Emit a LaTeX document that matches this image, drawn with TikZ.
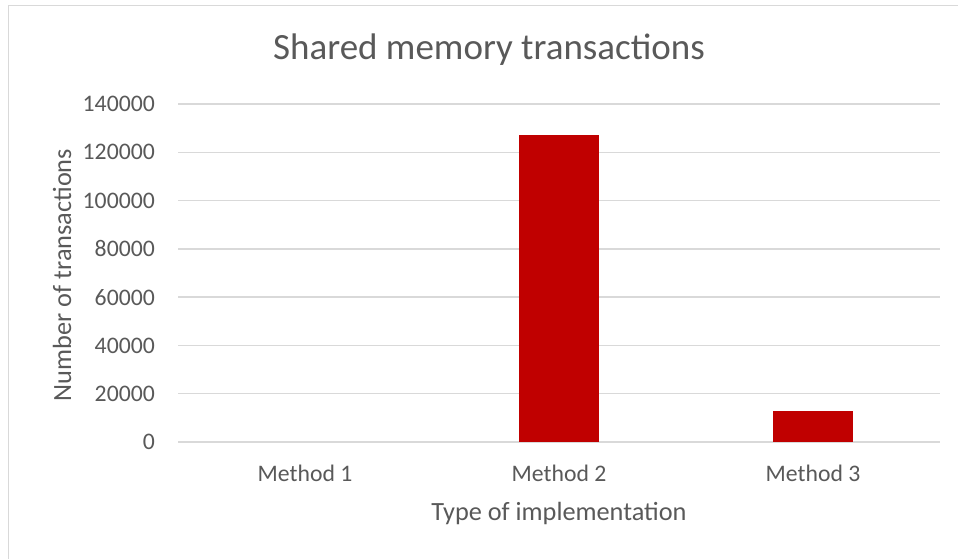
\documentclass[tikz,border=0pt]{standalone}
\usepackage{fontspec}
\setmainfont{Carlito}
\definecolor{txtgray}{HTML}{595959}
\definecolor{gridgray}{HTML}{D9D9D9}
\definecolor{barred}{HTML}{C00000}
\begin{document}
\begin{tikzpicture}[x=1pt,y=-1pt,
  ticklabel/.style={anchor=east,text=txtgray,font=\fontsize{23.7}{28}\selectfont,inner sep=0pt},
  catlabel/.style={anchor=center,text=txtgray,font=\fontsize{23.7}{28}\selectfont,inner sep=0pt},
  axistitle/.style={anchor=center,text=txtgray,font=\fontsize{26.3}{31}\selectfont,inner sep=0pt},
  charttitle/.style={anchor=center,text=txtgray,font=\fontsize{37}{44}\selectfont,inner sep=0pt},
  gridline/.style={draw=gridgray,line width=1.5pt},
  bar/.style={fill=barred,draw=none}]
\useasboundingbox (0,0) rectangle (958,558);
\fill[white] (0,0) rectangle (958,558);
% chart area frame (runs off the right and bottom edges)
\draw[gridgray,line width=1.5pt] (8.5,560) -- (8.5,5.5) -- (960,5.5);
% title
\node[charttitle] (title) at (489,50) {Shared memory transactions};
% horizontal gridlines and value labels
\foreach \v [count=\i from 0] in {0,20000,40000,60000,80000,100000,120000,140000} {
  \pgfmathsetmacro{\yy}{442-48.2857*\i}
  \draw[gridline] (178,\yy) -- (940,\yy);
  \node[ticklabel] (tick\i) at (155,\yy) {\v};
}
% bars
\fill[bar] (519,442) rectangle (599,134.5) coordinate (bartwo);
\fill[bar] (773,442) rectangle (853,411) coordinate (barthree);
% category labels
\node[catlabel] (m1) at (305,473) {Method 1};
\node[catlabel] (m2) at (559,473) {Method 2};
\node[catlabel] (m3) at (813,473) {Method 3};
% axis titles
\node[axistitle] (xtitle) at (559,513) {Type of implementation};
\node[axistitle,rotate=90] (ytitle) at (62,275) {Number of transactions};
\end{tikzpicture}
\end{document}
